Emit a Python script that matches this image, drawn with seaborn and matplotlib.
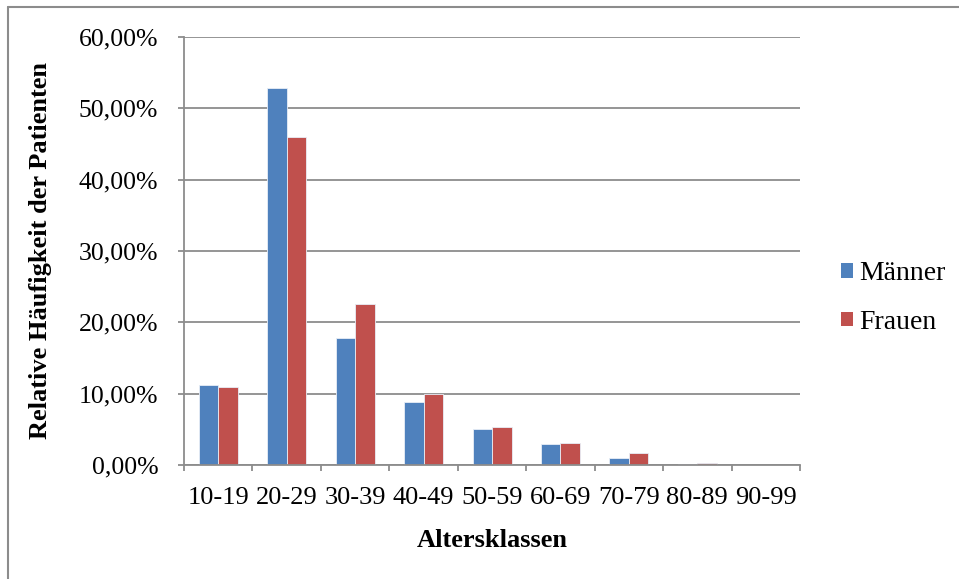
import pandas as pd
import matplotlib.pyplot as plt
import seaborn as sns
from matplotlib.lines import Line2D
from matplotlib.patches import Patch
from matplotlib.ticker import FuncFormatter, FixedLocator

# Data (percent of patients per age class)
altersklassen = ['10-19', '20-29', '30-39', '40-49', '50-59',
                 '60-69', '70-79', '80-89', '90-99']
maenner = [11.2, 52.8, 17.8, 8.9, 5.0, 2.9, 1.0, 0.2, 0.0]
frauen = [10.95, 46.0, 22.5, 10.0, 5.3, 3.05, 1.65, 0.3, 0.0]
gruppen = ['Männer', 'Frauen']
farben = ['#4F81BD', '#C0504D']

df = pd.DataFrame({
    'klasse': altersklassen * 2,
    'wert': maenner + frauen,
    'gruppe': [gruppen[0]] * len(maenner) + [gruppen[1]] * len(frauen),
})

sns.set_style('white')
plt.rcParams['font.family'] = ['Liberation Serif', 'DejaVu Serif']
plt.rcParams['text.color'] = 'black'
plt.rcParams['axes.labelcolor'] = 'black'
plt.rcParams['xtick.color'] = 'black'
plt.rcParams['ytick.color'] = 'black'

fig = plt.figure(figsize=(9.59, 5.79), dpi=100)
ax = fig.add_axes([0.1919, 0.1969, 0.6423, 0.7392])

sns.barplot(
    data=df,
    x='klasse',
    y='wert',
    hue='gruppe',
    order=altersklassen,
    hue_order=gruppen,
    palette=farben,
    saturation=1,
    width=0.57,
    gap=0,
    edgecolor='#e8eef7',
    linewidth=0.6,
    legend=False,
    ax=ax
)

ax.set_xlim(-0.5, len(altersklassen) - 0.5)
ax.set_ylim(0, 60)
ax.set_yticks(range(0, 61, 10))
ax.yaxis.set_major_formatter(
    FuncFormatter(lambda v, p: f'{v:.2f}%'.replace('.', ','))
)
ax.grid(axis='y', color='#8c8c8c', linewidth=1.3)
ax.set_axisbelow(True)

for side in ['top', 'right']:
    ax.spines[side].set_visible(False)
for side in ['left', 'bottom']:
    ax.spines[side].set_color('#8c8c8c')
    ax.spines[side].set_linewidth(1.3)

# tick marks between the categories
ax.xaxis.set_minor_locator(FixedLocator(
    [i - 0.5 for i in range(len(altersklassen) + 1)]
))
ax.tick_params(axis='x', which='major', length=0, pad=16,
               labelsize=19)
ax.tick_params(axis='x', which='minor', bottom=True, length=4.5,
               width=1.3, color='#8c8c8c')
ax.tick_params(axis='y', left=True, length=4.5, width=1.3,
               color='#8c8c8c', labelsize=18.5, pad=14)

ax.set_xlabel('Altersklassen', fontsize=19, fontweight='bold',
              labelpad=14)
ax.set_ylabel('Relative Häufigkeit der Patienten', fontsize=19,
              fontweight='bold', labelpad=19)

handles = [Patch(facecolor=c, edgecolor='none') for c in farben]
fig.legend(handles, gruppen, loc='center left',
           bbox_to_anchor=(0.851, 0.485), frameon=False,
           fontsize=20, handlelength=0.42, handleheight=0.42,
           handletextpad=0.22, labelspacing=0.85)

# outer chart border (top and left visible)
fig.add_artist(Line2D([0.0085, 1.0], [0.988, 0.988],
                      transform=fig.transFigure, color='#8c8c8c',
                      linewidth=1.5))
fig.add_artist(Line2D([0.0085, 0.0085], [0.0, 0.988],
                      transform=fig.transFigure, color='#8c8c8c',
                      linewidth=1.5))

fig.savefig('out.png', dpi=100)
